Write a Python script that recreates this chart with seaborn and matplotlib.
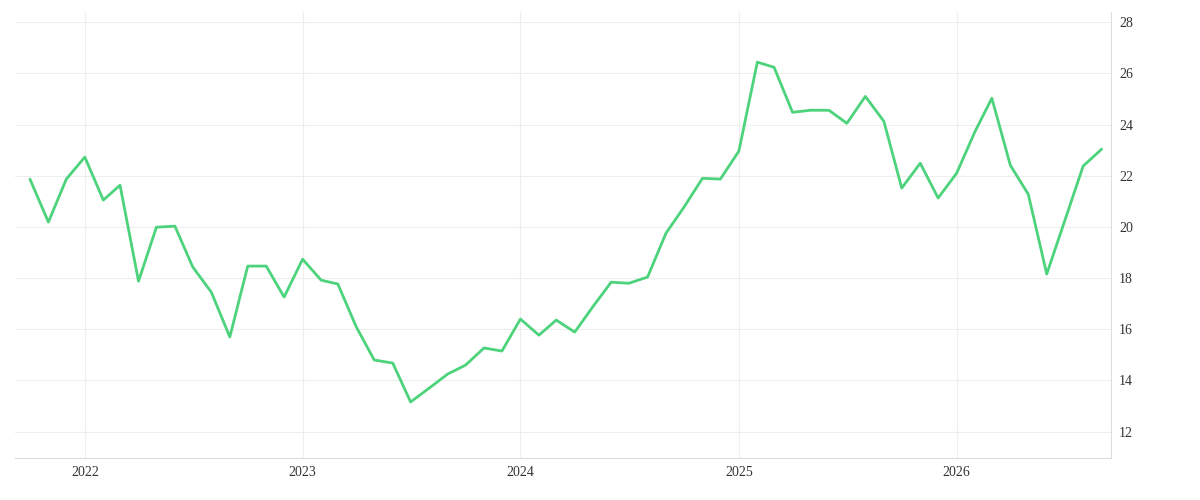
import matplotlib
matplotlib.use("Agg")
import matplotlib.pyplot as plt
import matplotlib.dates as mdates
import seaborn as sns
import pandas as pd

dates = pd.date_range("2021-10-01", "2026-09-01", freq="MS")
values = [21.87, 20.19, 21.87, 22.73, 21.05, 21.63, 17.88, 19.99, 20.03, 18.43, 17.45, 15.7,
          18.47, 18.47, 17.26, 18.74, 17.92, 17.77, 16.09, 14.8, 14.68, 13.16, 13.7, 14.25,
          14.6, 15.27, 15.15, 16.4, 15.77, 16.36, 15.89, 16.87, 17.84, 17.8, 18.04, 19.76,
          20.77, 21.9, 21.87, 22.96, 26.44, 26.24, 24.48, 24.56, 24.56, 24.05, 25.1, 24.13,
          21.52, 22.49, 21.13, 22.1, 23.74, 25.03, 22.41, 21.28, 18.16, 20.23, 22.38, 23.04]
yticks = [12, 14, 16, 18, 20, 22, 24, 26, 28]

sns.set_style("white")
plt.rcParams['font.family'] = ['Liberation Serif', 'DejaVu Serif']
fig = plt.figure(figsize=(12, 5), dpi=100)
ax = fig.add_axes([0.0125, 0.084, 0.913, 0.892])
df = pd.DataFrame({"date": dates, "v": values})
sns.lineplot(data=df, x="date", y="v", ax=ax, color="#4cd37b", linewidth=2)
ax.set_xlim(pd.Timestamp("2021-09-06"), pd.Timestamp("2026-09-16"))
ax.set_ylim(10.97, 28.4)
ax.set_yticks(yticks)
ax.yaxis.tick_right()
ax.xaxis.set_major_locator(mdates.YearLocator())
ax.xaxis.set_major_formatter(mdates.DateFormatter("%Y"))
ax.grid(True, color="#eeeeee", linewidth=0.8)
for s in ["top", "left"]:
    ax.spines[s].set_visible(False)
ax.spines["bottom"].set_color("#dddddd")
ax.spines["right"].set_color("#dddddd")
ax.tick_params(axis="both", length=0, labelsize=10, colors="#333333", pad=6)
ax.set_xlabel("")
ax.set_ylabel("")
fig.savefig("out.png", dpi=100)
